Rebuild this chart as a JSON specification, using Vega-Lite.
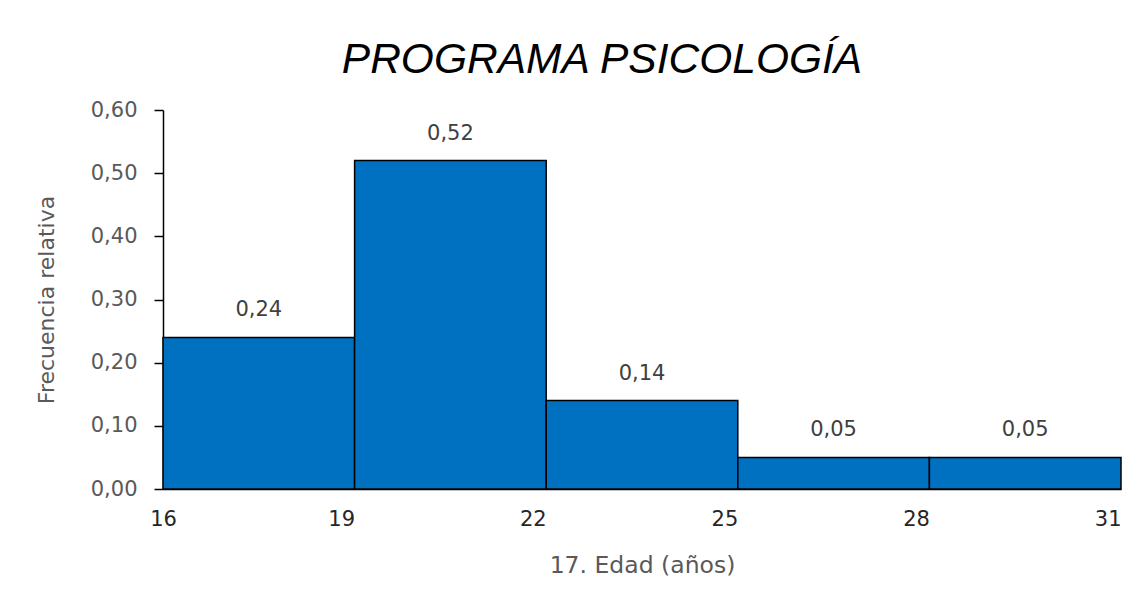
{
  "$schema": "https://vega.github.io/schema/vega-lite/v6.json",
  "width": 958,
  "height": 379,
  "autosize": {"type": "none"},
  "padding": {"left": 163, "top": 110, "right": 4, "bottom": 101},
  "background": "white",
  "title": {
    "text": "PROGRAMA PSICOLOGÍA",
    "font": "Liberation Sans",
    "fontStyle": "italic",
    "fontWeight": "normal",
    "fontSize": 42.5,
    "color": "#000000",
    "anchor": "middle",
    "frame": "group",
    "dx": -40,
    "offset": 18
  },
  "data": {
    "values": [
      {"desde": 16, "hasta": 19, "freq": 0.24},
      {"desde": 19, "hasta": 22, "freq": 0.52},
      {"desde": 22, "hasta": 25, "freq": 0.14},
      {"desde": 25, "hasta": 28, "freq": 0.05},
      {"desde": 28, "hasta": 31, "freq": 0.05}
    ]
  },
  "transform": [
    {"calculate": "replace(format(datum.freq, '.2f'), '.', ',')", "as": "etiqueta"},
    {"calculate": "(datum.desde + datum.hasta) / 2", "as": "centro"}
  ],
  "config": {
    "view": {"stroke": null},
    "font": "DejaVu Sans"
  },
  "layer": [
    {
      "mark": {"type": "rect", "fill": "#0070C0", "stroke": "#000000", "strokeWidth": 1.5},
      "encoding": {
        "x": {
          "field": "desde",
          "type": "quantitative",
          "scale": {"domain": [16, 31], "nice": false, "zero": false},
          "axis": {
            "values": [16, 19, 22, 25, 28, 31],
            "format": "d",
            "title": "17. Edad (años)",
            "titleFont": "DejaVu Sans",
            "titleFontSize": 23.5,
            "titleFontWeight": "normal",
            "titleColor": "#595959",
            "titlePadding": 24,
            "labelFont": "DejaVu Sans",
            "labelFontSize": 21,
            "labelColor": "#262626",
            "labelAlign": {"condition": {"test": "datum.value == 16", "value": "center"}, "value": "right"},
            "labelBound": false,
            "labelFlush": false,
            "labelOverlap": false,
            "labelPadding": 19,
            "labelDx": {"condition": {"test": "datum.value == 16", "value": 5}, "value": 0},
            "ticks": false,
            "grid": false,
            "domain": true,
            "domainColor": "#000000",
            "domainWidth": 1.5
          }
        },
        "x2": {"field": "hasta"},
        "y": {
          "field": "freq",
          "type": "quantitative",
          "scale": {"domain": [0, 0.6], "nice": false},
          "axis": {
            "values": [0, 0.1, 0.2, 0.3, 0.4, 0.5, 0.6],
            "labelExpr": "replace(format(datum.value, '.2f'), '.', ',')",
            "title": "Frecuencia relativa",
            "titleFont": "DejaVu Sans",
            "titleFontSize": 22,
            "titleFontWeight": "normal",
            "titleColor": "#595959",
            "titlePadding": 32,
            "labelFont": "DejaVu Sans",
            "labelFontSize": 21,
            "labelColor": "#595959",
            "labelPadding": 17,
            "tickSize": 9,
            "tickColor": "#000000",
            "tickWidth": 1.5,
            "domainColor": "#000000",
            "domainWidth": 1.5,
            "grid": false
          }
        },
        "y2": {"datum": 0}
      }
    },
    {
      "mark": {"type": "text", "dy": -27, "baseline": "middle", "font": "DejaVu Sans", "fontSize": 21, "color": "#404040"},
      "encoding": {
        "x": {"field": "centro", "type": "quantitative"},
        "y": {"field": "freq", "type": "quantitative"},
        "text": {"field": "etiqueta"}
      }
    }
  ]
}
